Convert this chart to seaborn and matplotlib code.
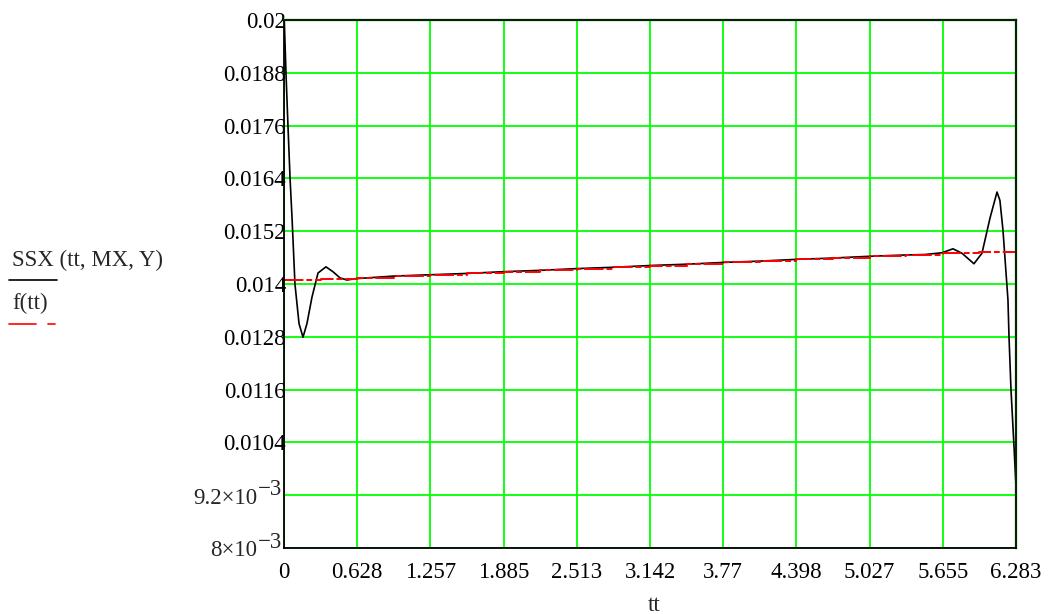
import numpy as np
import pandas as pd
import seaborn as sns
import matplotlib.pyplot as plt
from matplotlib.lines import Line2D

sns.set_theme(style="white")
plt.rcParams["font.family"] = ["Liberation Serif", "DejaVu Serif"]

# red curve f(tt): stepwise, nearly linear
red_tt = [0.0, 0.314, 0.628, 0.942, 1.257, 1.571, 1.885, 2.199, 2.513, 2.827,
          3.142, 3.456, 3.77, 4.084, 4.398, 4.712, 5.027, 5.341, 5.655, 5.969, 6.283]
red_val = [0.01409, 0.01411, 0.01414, 0.01418, 0.01421, 0.01424, 0.01428, 0.01431,
           0.01435, 0.01438, 0.01442, 0.01445, 0.01449, 0.01452, 0.01456, 0.01459,
           0.01463, 0.01466, 0.01470, 0.01473, 0.01478]

# black curve SSX(tt, MX, Y)
head_tt = [0.0, 0.017, 0.034, 0.052, 0.069, 0.094, 0.129, 0.163, 0.197, 0.24,
           0.292, 0.36, 0.42, 0.48, 0.541, 0.61]
head_val = [0.0202, 0.0188, 0.0176, 0.0164, 0.0155, 0.0140, 0.0131, 0.01279, 0.0131,
            0.0137, 0.01425, 0.01439, 0.01428, 0.01414, 0.01409, 0.01412]
mid_tt = [0.942, 1.257, 1.571, 1.885, 2.199, 2.513, 2.827, 3.142, 3.456, 3.77,
          4.084, 4.398, 4.712, 5.027, 5.341, 5.5]
mid_val = [0.01418, 0.01421, 0.01424, 0.01428, 0.01431, 0.01435, 0.01438, 0.01442,
           0.01445, 0.01449, 0.01452, 0.01456, 0.01459, 0.01463, 0.01466, 0.01467]
tail_tt = [5.648, 5.742, 5.819, 5.922, 5.991, 6.06, 6.12, 6.145, 6.171, 6.214,
           6.223, 6.24, 6.266, 6.283]
tail_val = [0.01471, 0.01480, 0.01470, 0.01446, 0.0147, 0.0155, 0.01609, 0.0159,
            0.01523, 0.01364, 0.0128, 0.0116, 0.0103, 0.0094]

x_ticks = [0, 0.628, 1.257, 1.885, 2.513, 3.142, 3.77, 4.398, 5.027, 5.655, 6.283]
x_labels = ["0", "0.628", "1.257", "1.885", "2.513", "3.142", "3.77", "4.398",
            "5.027", "5.655", "6.283"]
y_ticks = [0.008, 0.0092, 0.0104, 0.0116, 0.0128, 0.014, 0.0152, 0.0164, 0.0176,
           0.0188, 0.02]
y_labels = ["", "", "0.0104", "0.0116", "0.0128", "0.014", "0.0152", "0.0164",
            "0.0176", "0.0188", "0.02"]
# labels written as mantissa x 10 with exponent -3
sci_ticks = [0.008, 0.0092]
sci_mant = ["8×10", "9.2×10"]

FS = 16.5

black = pd.DataFrame({"tt": head_tt + mid_tt + tail_tt,
                      "v": head_val + mid_val + tail_val})
red = pd.DataFrame({"tt": red_tt, "v": red_val})

fig = plt.figure(figsize=(10.57, 6.14), dpi=100)
ax = fig.add_axes([284 / 1057, 1 - 548 / 614, 732 / 1057, 528 / 614])

sns.lineplot(data=black, x="tt", y="v", ax=ax, color="black", linewidth=1.2,
             sort=False, estimator=None)
sns.lineplot(data=red, x="tt", y="v", ax=ax, color="#ff0000", linewidth=1.4,
             sort=False, estimator=None, drawstyle="steps-post")
ax.lines[-1].set_dashes([10, 1.5, 3, 1.5])

ax.set_xlim(0, 6.283)
ax.set_ylim(0.008, 0.02)
ax.set_xticks(x_ticks)
ax.set_xticklabels(x_labels)
ax.set_yticks(y_ticks)
ax.set_yticklabels(y_labels)
ax.tick_params(axis="both", length=0, labelsize=FS, colors="black")
ax.tick_params(axis="y", pad=-1.5)
ax.tick_params(axis="x", pad=10)
ax.grid(True, color="#00ff00", linewidth=1.3)
ax.set_axisbelow(True)
ax.set_xlabel("")
ax.set_ylabel("")
for side in ["left", "bottom"]:
    ax.spines[side].set_color("black")
    ax.spines[side].set_linewidth(1.3)
for side in ["top", "right"]:
    ax.spines[side].set_color("#002800")
    ax.spines[side].set_linewidth(1.6)

for val, mant in zip(sci_ticks, sci_mant):
    ax.annotate(mant, xy=(0, val), xycoords=("axes fraction", "data"),
                xytext=(-27, -3), textcoords="offset pixels", ha="right",
                va="center", fontsize=FS, annotation_clip=False)
    ax.annotate("−3", xy=(0, val), xycoords=("axes fraction", "data"),
                xytext=(-2, 6), textcoords="offset pixels", ha="right",
                va="center", fontsize=FS, annotation_clip=False)

fig.text(654 / 1057, 1 - 611 / 614, "tt", fontsize=FS, ha="center",
         va="baseline")

# left-side trace legend, Mathcad style
fig.text(12 / 1057, 1 - 266 / 614, "SSX (tt, MX, Y)", fontsize=FS, va="baseline")
fig.add_artist(Line2D([9 / 1057, 57 / 1057], [1 - 280 / 614] * 2,
                      color="black", linewidth=1.2))
fig.text(12 / 1057, 1 - 309 / 614, "f(tt)", fontsize=FS, va="baseline")
fig.add_artist(Line2D([9 / 1057, 36 / 1057], [1 - 324 / 614] * 2,
                      color="#ff0000", linewidth=1.2))
fig.add_artist(Line2D([48 / 1057, 55 / 1057], [1 - 324 / 614] * 2,
                      color="#ff0000", linewidth=1.2))

fig.savefig("out.png", dpi=100)
